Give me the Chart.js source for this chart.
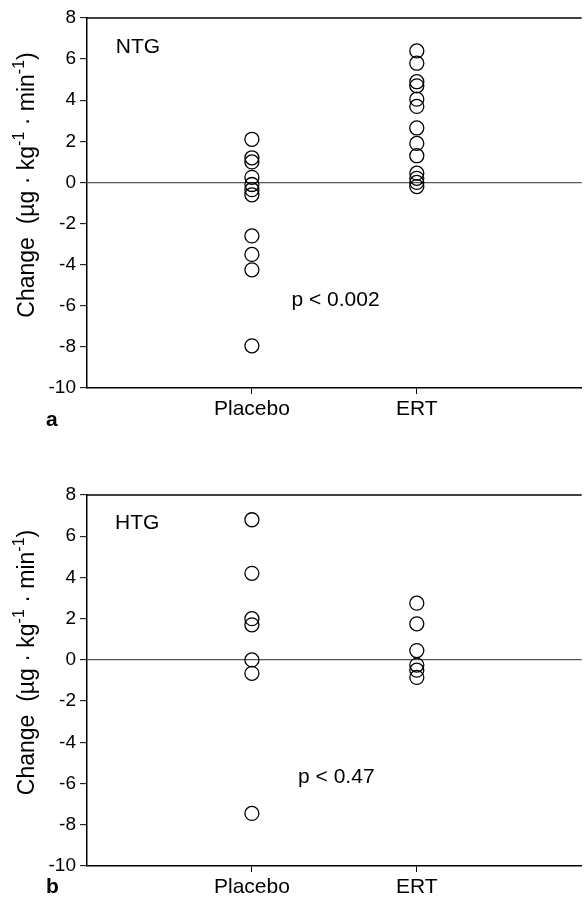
<!DOCTYPE html>
<html>
<head>
<meta charset="utf-8">
<script src="https://cdn.jsdelivr.net/npm/chart.js@4.4.1/dist/chart.umd.min.js"></script>
<style>
    body { margin: 0; background: #fff; overflow: hidden; }
    .panel { position: relative; width: 590px; height: 454px; }
</style>
</head>
<body>
<div class="panel"><canvas id="chartA"></canvas></div>
<div class="panel"><canvas id="chartB"></canvas></div>
<script>
// ---- data ----
const categories = ["Placebo", "ERT"];

const placeboNTG = [2.1, 1.2, 1.0, 0.25, -0.1, -0.35, -0.6, -2.6, -3.5, -4.25, -7.95];
const ertNTG = [6.4, 5.8, 4.9, 4.7, 4.05, 3.7, 2.65, 1.9, 1.3, 0.45, 0.2, 0.0, -0.2];

const placeboHTG = [6.8, 4.2, 2.0, 1.7, 0.0, -0.65, -7.45];
const ertHTG = [2.75, 1.75, 0.45, -0.25, -0.5, -0.85];

const yMin = -10;
const yMax = 8;
const yStep = 2;

const FONT = "'Liberation Sans', Arial, sans-serif";

// y-axis title with superscripts: [text, isSuperscript]
const yTitleParts = [
    ["Change  (\u00b5g \u00b7 kg", false],
    ["-1", true],
    [" \u00b7 min", false],
    ["-1", true],
    [")", false]
];

function toPoints(values, xPos) {
    return values.map((v) => ({ x: xPos, y: v }));
}

const panelText = {
    id: "panelText",
    afterDraw(chart, args, opts) {
        const { ctx, chartArea, scales } = chart;
        const { x, y } = scales;

        ctx.save();
        ctx.fillStyle = "#000";

        // top frame line
        ctx.strokeStyle = "#000";
        ctx.lineWidth = 1.5;
        ctx.beginPath();
        ctx.moveTo(chartArea.left, chartArea.top);
        ctx.lineTo(chartArea.right, chartArea.top);
        ctx.stroke();

        // group name and p value, placed in data units
        ctx.font = `21px ${FONT}`;
        ctx.textAlign = "left";
        ctx.textBaseline = "middle";
        ctx.fillText(opts.group, x.getPixelForValue(opts.groupAt[0]), y.getPixelForValue(opts.groupAt[1]));
        ctx.fillText(opts.pText, x.getPixelForValue(opts.pAt[0]), y.getPixelForValue(opts.pAt[1]));

        // panel letter
        ctx.font = `bold 21px ${FONT}`;
        ctx.textBaseline = "alphabetic";
        ctx.fillText(opts.letter, 46, chartArea.bottom + opts.letterDrop);

        // rotated y title
        const big = `23px ${FONT}`;
        const small = `16px ${FONT}`;
        let total = 0;
        yTitleParts.forEach(([t, sup]) => {
            ctx.font = sup ? small : big;
            total += ctx.measureText(t).width;
        });
        ctx.translate(28, (chartArea.top + chartArea.bottom) / 2 - 18);
        ctx.rotate(-Math.PI / 2);
        ctx.textBaseline = "middle";
        let cx = -total / 2;
        yTitleParts.forEach(([t, sup]) => {
            ctx.font = sup ? small : big;
            ctx.fillText(t, cx, sup ? -8 : 0);
            cx += ctx.measureText(t).width;
        });

        ctx.restore();
    }
};

function makeChart(canvasId, placebo, ert, cfg) {
    return new Chart(document.getElementById(canvasId), {
        type: "scatter",
        data: {
            datasets: [
                { data: toPoints(placebo, 1) },
                { data: toPoints(ert, 2) }
            ]
        },
        options: {
            animation: false,
            responsive: true,
            maintainAspectRatio: false,
            devicePixelRatio: 1,
            layout: { padding: { top: cfg.top, right: 5, bottom: 0, left: 0 } },
            elements: {
                point: {
                    pointStyle: "circle",
                    radius: 7,
                    borderWidth: 1.3,
                    borderColor: "#000",
                    backgroundColor: "rgba(0,0,0,0)",
                    hoverRadius: 7
                }
            },
            plugins: {
                legend: { display: false },
                tooltip: { enabled: false },
                panelText: {
                    group: cfg.group,
                    groupAt: cfg.groupAt,
                    pText: cfg.pText,
                    pAt: cfg.pAt,
                    letter: cfg.letter,
                    letterDrop: cfg.letterDrop
                }
            },
            scales: {
                x: {
                    type: "linear",
                    min: 0,
                    max: 3,
                    afterBuildTicks: (scale) => {
                        scale.ticks = categories.map((c, i) => ({ value: i + 1 }));
                    },
                    afterFit: (scale) => {
                        scale.height = cfg.xHeight;
                    },
                    ticks: {
                        callback: (v) => categories[v - 1] || "",
                        color: "#000",
                        font: { family: FONT, size: 21 },
                        padding: 3,
                        maxRotation: 0,
                        autoSkip: false
                    },
                    grid: {
                        drawOnChartArea: false,
                        tickLength: 6,
                        tickColor: "#000",
                        tickWidth: 1
                    },
                    border: { color: "#000", width: 1.5 }
                },
                y: {
                    min: yMin,
                    max: yMax,
                    afterFit: (scale) => {
                        scale.width = 87;
                    },
                    ticks: {
                        stepSize: yStep,
                        color: "#000",
                        font: { family: FONT, size: 19 },
                        padding: 4
                    },
                    grid: {
                        color: (ctx) => (ctx.tick && ctx.tick.value === 0 ? "#555" : "rgba(0,0,0,0)"),
                        lineWidth: 1.3,
                        tickLength: 7,
                        tickColor: "#000",
                        tickWidth: 1
                    },
                    border: { color: "#000", width: 1.5 }
                }
            }
        },
        plugins: [panelText]
    });
}

makeChart("chartA", placeboNTG, ertNTG, {
    top: 18, xHeight: 66,
    group: "NTG", groupAt: [0.175, 6.6],
    pText: "p < 0.002", pAt: [1.24, -5.75],
    letter: "a", letterDrop: 38
});

makeChart("chartB", placeboHTG, ertHTG, {
    top: 41, xHeight: 42,
    group: "HTG", groupAt: [0.17, 6.65],
    pText: "p < 0.47", pAt: [1.28, -5.68],
    letter: "b", letterDrop: 27
});
</script>
</body>
</html>
